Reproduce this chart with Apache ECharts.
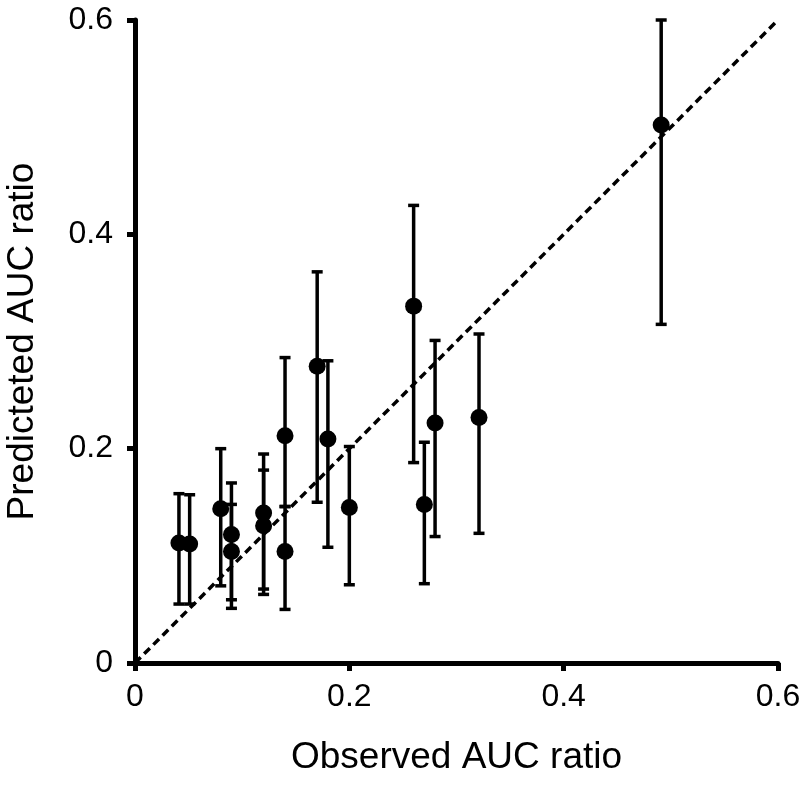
<!DOCTYPE html>
<html>
<head>
<meta charset="utf-8">
<script src="https://cdn.jsdelivr.net/npm/echarts@6/dist/echarts.min.js"></script>
<style>
html,body{margin:0;padding:0;background:#fff;}
#chart{width:800px;height:789px;}
</style>
</head>
<body>
<div id="chart"></div>
<script>
// Observed vs predicted AUC ratio with error bars
const observed  = [0.041, 0.051, 0.080, 0.090, 0.090, 0.120, 0.120, 0.140, 0.140, 0.170, 0.180, 0.200, 0.260, 0.270, 0.280, 0.321, 0.491];
const predicted = [0.112, 0.111, 0.144, 0.120, 0.104, 0.140, 0.128, 0.212, 0.104, 0.277, 0.209, 0.145, 0.333, 0.148, 0.224, 0.229, 0.502];
const lowerCI   = [0.055, 0.055, 0.072, 0.059, 0.051, 0.069, 0.064, 0.146, 0.050, 0.150, 0.108, 0.073, 0.187, 0.074, 0.118, 0.121, 0.316];
const upperCI   = [0.158, 0.157, 0.200, 0.168, 0.148, 0.195, 0.180, 0.285, 0.146, 0.365, 0.282, 0.202, 0.427, 0.206, 0.301, 0.307, 0.600];
const identityLine = [[0, 0], [0.6, 0.6]];
const tickValues = [0, 0.2, 0.4, 0.6];
const xTitle = 'Observed AUC ratio';
const yTitle = 'Predicteted AUC ratio';

const pointData = observed.map((x, i) => [x, predicted[i]]);
const barData = observed.map((x, i) => [x, lowerCI[i], upperCI[i]]);

const FONT = '"Liberation Sans", Arial, Helvetica, sans-serif';

const chart = echarts.init(document.getElementById('chart'), null, {renderer: 'canvas'});

const axisCommon = {
  type: 'value', min: 0, max: 0.6, interval: 0.2,
  splitLine: {show: false},
  axisLine: {show: true, onZero: false, lineStyle: {color: '#000', width: 5}},
  axisTick: {show: true, inside: false, length: 8, lineStyle: {color: '#000', width: 5}},
  axisLabel: {color: '#000', fontFamily: FONT, fontSize: 32,
    formatter: v => tickValues.includes(Math.round(v * 10) / 10) ? String(Math.round(v * 10) / 10) : ''},
  nameLocation: 'middle',
  nameTextStyle: {color: '#000', fontFamily: FONT, fontSize: 37}
};

chart.setOption({
  animation: false,
  backgroundColor: '#fff',
  grid: {left: 135, right: 22, top: 20, bottom: 126, containLabel: false, outerBoundsMode: 'none'},
  xAxis: Object.assign({}, axisCommon, {
    name: xTitle, nameGap: 76,
    axisLabel: Object.assign({}, axisCommon.axisLabel, {margin: 18})
  }),
  yAxis: Object.assign({}, axisCommon, {
    name: yTitle, nameGap: 94,
    axisLabel: Object.assign({}, axisCommon.axisLabel, {margin: 22})
  }),
  series: [
    {
      type: 'line', data: identityLine, symbol: 'none', silent: true,
      lineStyle: {color: '#000', width: 3.5, type: [8, 5]}, z: 1
    },
    {
      type: 'custom', data: barData, clip: false, z: 2,
      renderItem: function (params, api) {
        const x = api.value(0);
        const lo = api.coord([x, api.value(1)]);
        const hi = api.coord([x, api.value(2)]);
        const hw = 5.5;
        const style = {stroke: '#000', lineWidth: 3.5};
        return {
          type: 'group',
          children: [
            {type: 'line', shape: {x1: lo[0], y1: lo[1], x2: hi[0], y2: hi[1]}, style: style},
            {type: 'line', shape: {x1: lo[0] - hw, y1: lo[1], x2: lo[0] + hw, y2: lo[1]}, style: style},
            {type: 'line', shape: {x1: hi[0] - hw, y1: hi[1], x2: hi[0] + hw, y2: hi[1]}, style: style}
          ]
        };
      }
    },
    {
      type: 'scatter', data: pointData, symbol: 'circle', symbolSize: 17, z: 3,
      itemStyle: {color: '#000', opacity: 1}
    }
  ]
});
</script>
</body>
</html>
